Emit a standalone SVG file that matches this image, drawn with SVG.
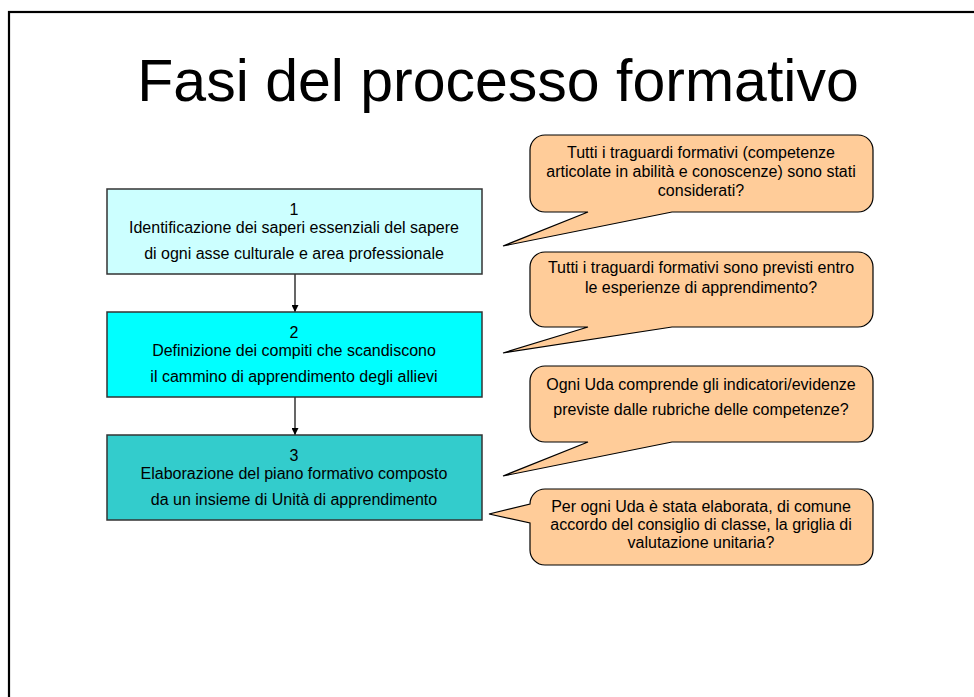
<svg xmlns="http://www.w3.org/2000/svg" width="974" height="697" viewBox="0 0 974 697">
<style>
.t{font-family:"Liberation Sans",Arial,sans-serif;font-size:16px;fill:#000;text-anchor:middle}
.box{stroke:#333;stroke-width:1.5}
.call{fill:#FFCC99;stroke:#000;stroke-width:1.2;stroke-linejoin:miter}
.conn{stroke:#000;stroke-width:1.2;fill:none}
</style>
<defs>
<marker id="ah" viewBox="0 0 10 10" refX="10" refY="5" markerWidth="7" markerHeight="7" orient="auto" markerUnits="userSpaceOnUse">
<path d="M0,0 L10,5 L0,10 Z" fill="#000"/>
</marker>
</defs>
<rect width="974" height="697" fill="#fff"/>
<rect x="9" y="12" width="990" height="720" fill="none" stroke="#000" stroke-width="2.2"/>
<text x="498" y="101" style="font-family:'Liberation Sans',Arial,sans-serif;font-size:59px;text-anchor:middle;fill:#000">Fasi del processo formativo</text>

<g id="connectors">
<line class="conn" x1="295" y1="274" x2="295" y2="312" marker-end="url(#ah)"/>
<line class="conn" x1="295" y1="397" x2="295" y2="435" marker-end="url(#ah)"/>
</g>

<g id="step1">
<rect class="box" x="107" y="189" width="375" height="85" fill="#CCFFFF"/>
<text class="t" x="294" y="215">1</text>
<text class="t" x="294" y="233">Identificazione dei saperi essenziali del sapere</text>
<text class="t" x="294" y="259">di ogni asse culturale e area professionale</text>
</g>
<g id="step2">
<rect class="box" x="107" y="312" width="375" height="85" fill="#00FFFF"/>
<text class="t" x="294" y="338">2</text>
<text class="t" x="294" y="356">Definizione dei compiti che scandiscono</text>
<text class="t" x="294" y="382">il cammino di apprendimento degli allievi</text>
</g>
<g id="step3">
<rect class="box" x="107" y="435" width="375" height="85" fill="#33CCCC"/>
<text class="t" x="294" y="461">3</text>
<text class="t" x="294" y="479">Elaborazione del piano formativo composto</text>
<text class="t" x="294" y="505">da un insieme di Unità di apprendimento</text>
</g>

<g id="callout1">
<path class="call" d="M545,135 H858 A15,15 0 0 1 873,150 V197 A15,15 0 0 1 858,212 H672 L503,246 L588,212 H545 A15,15 0 0 1 530,197 V150 A15,15 0 0 1 545,135 Z"/>
<text class="t" x="701" y="158">Tutti i traguardi formativi (competenze</text>
<text class="t" x="701" y="177">articolate in abilità e conoscenze) sono stati</text>
<text class="t" x="701" y="196">considerati?</text>
</g>
<g id="callout2">
<path class="call" d="M545,252 H858 A15,15 0 0 1 873,267 V312 A15,15 0 0 1 858,327 H672 L503,353 L588,327 H545 A15,15 0 0 1 530,312 V267 A15,15 0 0 1 545,252 Z"/>
<text class="t" x="701" y="273">Tutti i traguardi formativi sono previsti entro</text>
<text class="t" x="701" y="293">le esperienze di apprendimento?</text>
</g>
<g id="callout3">
<path class="call" d="M545,366 H858 A15,15 0 0 1 873,381 V427 A15,15 0 0 1 858,442 H672 L503,476 L588,442 H545 A15,15 0 0 1 530,427 V381 A15,15 0 0 1 545,366 Z"/>
<text class="t" x="701" y="390">Ogni Uda comprende gli indicatori/evidenze</text>
<text class="t" x="701" y="415">previste dalle rubriche delle competenze?</text>
</g>
<g id="callout4">
<path class="call" d="M545,489 H858 A15,15 0 0 1 873,504 V550 A15,15 0 0 1 858,565 H545 A15,15 0 0 1 530,550 V523 L489,514 L530,504 A15,15 0 0 1 545,489 Z"/>
<text class="t" x="701" y="512">Per ogni Uda è stata elaborata, di comune</text>
<text class="t" x="701" y="530">accordo del consiglio di classe, la griglia di</text>
<text class="t" x="701" y="548">valutazione unitaria?</text>
</g>
</svg>
